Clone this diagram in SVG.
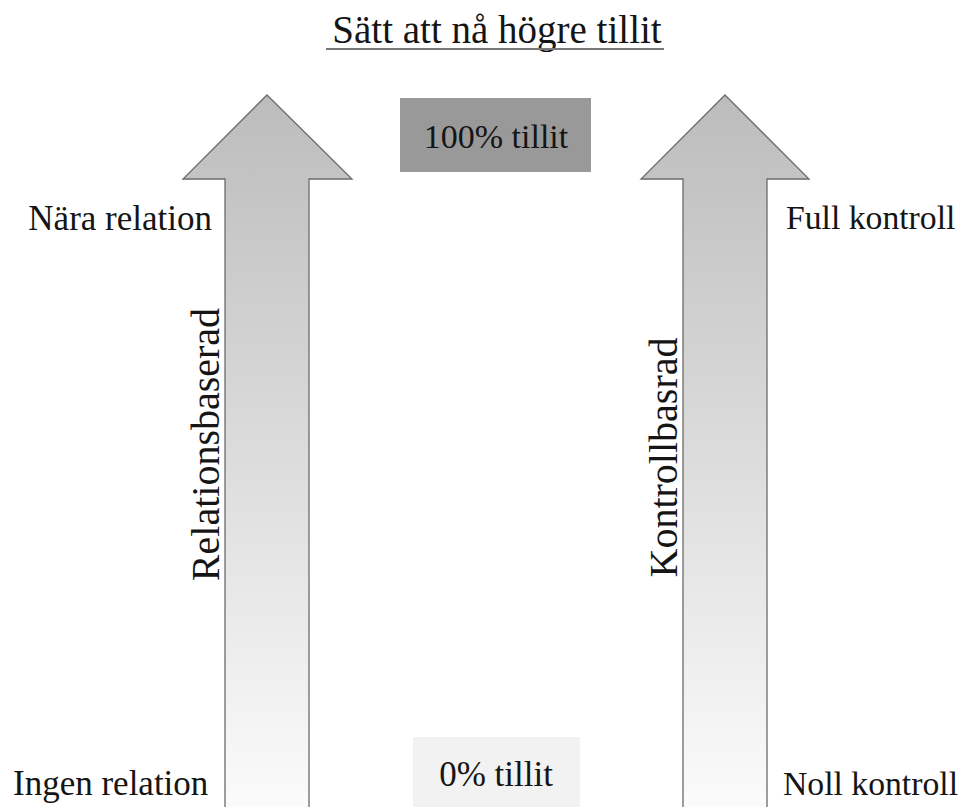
<svg xmlns="http://www.w3.org/2000/svg" width="968" height="807" viewBox="0 0 968 807">
<defs>
<linearGradient id="shaftGrad" gradientUnits="userSpaceOnUse" x1="0" y1="95" x2="0" y2="807">
<stop offset="0" stop-color="#bcbcbc"/>
<stop offset="1" stop-color="#fbfbfb"/>
</linearGradient>
<style>
text{font-family:"Liberation Serif","Times New Roman",serif;fill:#151515}
.arrow{fill:url(#shaftGrad);stroke:#6b6b6b;stroke-width:1.3}
.lbl{font-size:35px}
.lblr{font-size:33.7px}
.vert{font-size:40px;text-anchor:middle}
</style>
</defs>
<rect width="968" height="807" fill="#ffffff"/>
<g id="title">
<text x="497" y="43" font-size="39" text-anchor="middle">Sätt att nå högre tillit</text>
<line x1="326" y1="49" x2="664" y2="49" stroke="#777" stroke-width="2"/>
</g>
<g id="connectors">
<g id="arrow-left">
<path class="arrow" d="M267,95 L352,179 L309,179 L309,812 L225,812 L225,179 L183,179 Z"/>
<text class="vert" transform="translate(219,444.5) rotate(-90)">Relationsbaserad</text>
</g>
<g id="arrow-right">
<path class="arrow" d="M725,95 L809,179 L767,179 L767,812 L683,812 L683,179 L641,179 Z"/>
<text class="vert" transform="translate(677,457.5) rotate(-90)">Kontrollbasrad</text>
</g>
</g>
<g id="box-100">
<rect x="400" y="98" width="191" height="74" fill="#999999"/>
<text x="496" y="148" font-size="34" text-anchor="middle">100% tillit</text>
</g>
<g id="box-0">
<rect x="413" y="737" width="167" height="75" fill="#f2f2f2"/>
<text x="496" y="786" font-size="35" text-anchor="middle">0% tillit</text>
</g>
<g id="label-nara">
<text class="lbl" x="212" y="230" text-anchor="end">Nära relation</text>
</g>
<g id="label-full">
<text class="lblr" x="786" y="229">Full kontroll</text>
</g>
<g id="label-ingen">
<text class="lbl" x="13" y="795">Ingen relation</text>
</g>
<g id="label-noll">
<text class="lblr" x="958" y="795" text-anchor="end">Noll kontroll</text>
</g>
</svg>
